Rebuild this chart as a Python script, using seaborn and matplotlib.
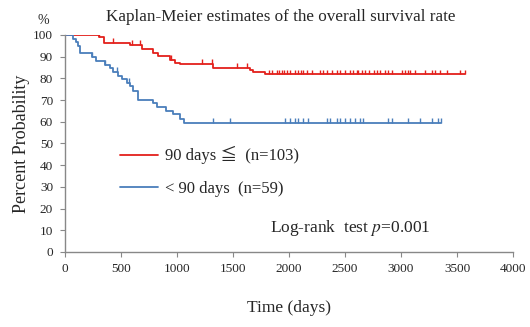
import numpy as np
import pandas as pd
import matplotlib
matplotlib.use("Agg")
import matplotlib.pyplot as plt
from matplotlib.lines import Line2D
import seaborn as sns

# ---- data ----
red_times = [0, 300, 345, 580, 690, 790, 830, 940, 985, 1030, 1320, 1650, 1680, 1790, 3570]
red_surv = [100, 99.0, 96.5, 95.5, 93.5, 91.5, 90.5, 88.5, 87.0, 86.5, 85.0, 84.0, 83.0, 81.8, 81.8]
red_censor = [303, 430, 595, 670, 943, 1220, 1310, 1533, 1628, 1824, 1845, 1890, 1914, 1935,
              1958, 1985, 2009, 2054, 2078, 2104, 2128, 2163, 2203, 2277, 2306, 2342, 2381,
              2431, 2455, 2500, 2545, 2574, 2604, 2619, 2649, 2679, 2714, 2762, 2783, 2813,
              2857, 2887, 2917, 3006, 3036, 3065, 3080, 3125, 3214, 3274, 3304, 3348, 3408,
              3527, 3570]

blue_times = [0, 69, 95, 115, 135, 240, 280, 357, 400, 430, 470, 510, 550, 580, 607, 652,
              790, 820, 905, 965, 1027, 1065, 3357]
blue_surv = [100, 98.3, 96.6, 94.9, 91.5, 89.8, 88.1, 86.4, 84.7, 83.0, 81.3, 79.7, 78.0,
             76.3, 74.0, 70.0, 68.5, 66.8, 65.2, 63.5, 61.3, 59.6, 59.6]
blue_censor = [245, 357, 460, 570, 1324, 1473, 1964, 2009, 2054, 2083, 2128, 2173, 2336,
               2366, 2426, 2455, 2500, 2545, 2589, 2634, 2664, 2887, 2917, 3065, 3170,
               3274, 3333, 3357]

labels = ["90 days \u2266  (n=103)", "< 90 days  (n=59)"]
x_ticks = [0, 500, 1000, 1500, 2000, 2500, 3000, 3500, 4000]
y_ticks = [0, 10, 20, 30, 40, 50, 60, 70, 80, 90, 100]

RED = "#e3201b"
BLUE = "#4a7ebb"

sns.set_theme(style="white")
plt.rcParams["font.family"] = ["Liberation Serif", "Noto Sans CJK JP", "DejaVu Sans"]
plt.rcParams["mathtext.fontset"] = "stix"


def step_value(times, surv, t):
    idx = np.searchsorted(times, t, side="right") - 1
    return np.asarray(surv)[idx]


fig = plt.figure(figsize=(5.30, 3.27), dpi=100)
ax = fig.add_axes([0.1226, 0.2294, 0.8454, 0.6636])

tick_marker = [(0, 0), (0, 1)]
for times, surv, cens, col in [(red_times, red_surv, red_censor, RED),
                               (blue_times, blue_surv, blue_censor, BLUE)]:
    df = pd.DataFrame({"t": times, "s": surv})
    sns.lineplot(data=df, x="t", y="s", ax=ax, color=col, lw=1.3,
                 drawstyle="steps-post", estimator=None, sort=False)
    cdf = pd.DataFrame({"t": cens, "s": step_value(times, surv, cens)})
    sns.scatterplot(data=cdf, x="t", y="s", ax=ax, marker=tick_marker, s=50,
                    facecolor="none", edgecolor=col, linewidth=1.0, zorder=3)

ax.set_xlim(0, 4000)
ax.set_ylim(0, 100)
ax.set_xticks(x_ticks)
ax.set_yticks(y_ticks)
ax.tick_params(axis="both", labelsize=9.5, length=3.6, width=0.8, color="#888888",
               direction="out", bottom=True, left=True)
ax.tick_params(axis="x", pad=4.3)
ax.tick_params(axis="y", pad=5)
for s in ["top", "right"]:
    ax.spines[s].set_visible(False)
for s in ["left", "bottom"]:
    ax.spines[s].set_color("#888888")
    ax.spines[s].set_linewidth(1.0)

ax.set_xlabel("Time (days)", fontsize=12.5, labelpad=18)
ax.set_ylabel("Percent Probability", fontsize=13, labelpad=2)
ax.set_title("Kaplan-Meier estimates of the overall survival rate", fontsize=12.3, pad=10, x=0.482)
ax.text(-0.048, 1.035, "%", transform=ax.transAxes, fontsize=10, ha="center", va="bottom")

handles = [Line2D([], [], color=RED, lw=1.3), Line2D([], [], color=BLUE, lw=1.3)]
ax.legend(handles, labels, loc="center left", bbox_to_anchor=(0.122, 0.37),
          frameon=False, fontsize=12, handlelength=2.3, handletextpad=0.45,
          labelspacing=1.0, borderpad=0, borderaxespad=0)

ax.text(0.458, 0.11, r"Log-rank  test $\mathit{p}$=0.001", transform=ax.transAxes,
        fontsize=12.5, ha="left", va="center")

fig.savefig("out.png", dpi=100)
